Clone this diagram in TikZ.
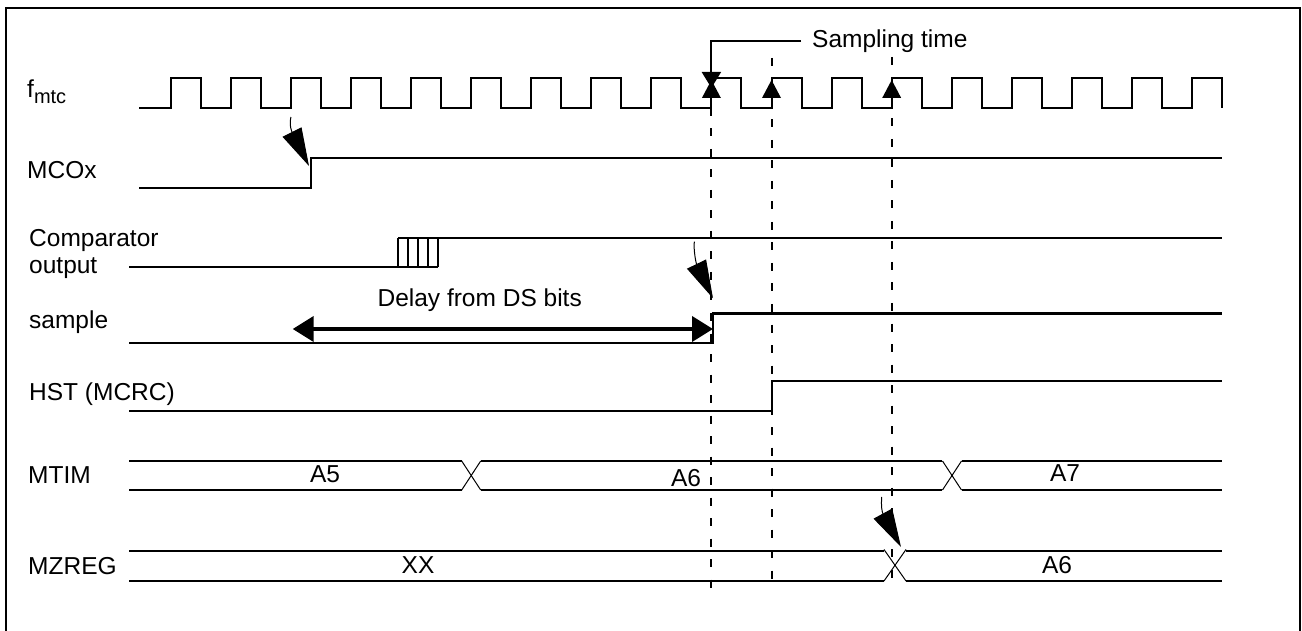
\documentclass[tikz,border=0pt]{standalone}
\usepackage{fontspec}
\setmainfont{Liberation Sans}
\usetikzlibrary{arrows.meta}
\newcommand{\diagfont}{\fontsize{24.5pt}{26.6pt}\selectfont}
\newcommand{\subfont}{\fontsize{20pt}{20pt}\selectfont}

\begin{document}
\begin{tikzpicture}[x=1pt, y=-1pt,
  sig/.style={line width=2pt},
  crossing/.style={line width=1pt},
  guide/.style={line width=2pt, dash pattern=on 8pt off 12.5pt},
  cause/.style={line width=1pt, -{Triangle[length=38pt, width=21pt]}},
  delay/.style={line width=4pt, {Triangle[length=21pt, width=25pt]}-{Triangle[length=21pt, width=25pt]}},
  lbl/.style={anchor=base west, inner sep=0pt, font=\diagfont},
  val/.style={anchor=base, inner sep=0pt, font=\diagfont}
]
  \useasboundingbox (0,0) rectangle (1302,631);

  % Frame
  \draw[line width=2pt] (6,8) rectangle (1300,660);

  % Signal names
  \node[lbl] (fmtc) at (27,98) {f\raisebox{-6pt}{\subfont mtc}};
  \node[lbl] (mcox) at (27,179) {MCOx};
  \node[lbl, align=left] (cmp) at (29,273.3) {Comparator\\output};
  \node[lbl] (smp) at (29,328.3) {sample};
  \node[lbl] (hst) at (29,400) {HST (MCRC)};
  \node[lbl] (mtim) at (28,483) {MTIM};
  \node[lbl] (mzreg) at (28,574) {MZREG};

  % Clock
  \draw[sig] (139,108) foreach \k in {0,...,17} { -- ({170.5+60.1*\k},108) -- ++(0,-30) -- ++(30,0) -- ++(0,30) };

  % MCOx, comparator, sample, HST
  \draw[sig] (139,188) -- (311,188) -- (311,158) -- (1222,158);
  \draw[sig] (129,267.5) -- (438,267.5);
  \draw[sig] (398,238) -- (1222,238);
  \foreach \x in {398,408,418,428,438}
    \draw[line width=1.5pt] (\x,238) -- (\x,267.5);
  \draw[sig] (129,342.5) -- (713,342.5) -- (713,313.5) -- (1222,313.5);
  \draw[sig] (129,411) -- (771.5,411) -- (771.5,381) -- (1222,381);

  % MTIM bus
  \draw[sig] (129,461) -- (461.7,461) (480.7,461) -- (942.3,461) (961.7,461) -- (1222,461)
             (129,490) -- (461.7,490) (480.7,490) -- (942.3,490) (961.7,490) -- (1222,490);
  \foreach \c in {471.2,952}
    \draw[crossing] (\c-9.5,461) -- (\c+9.5,490) (\c-9.5,490) -- (\c+9.5,461);
  \node[val] (a5) at (325,482) {A5};
  \node[val] (a6) at (686,486) {A6};
  \node[val] (a7) at (1065,481.7) {A7};

  % MZREG bus
  \draw[sig] (129,551) -- (884,551) (906,551) -- (1222,551)
             (129,581) -- (884,581) (906,581) -- (1222,581);
  \draw[crossing] (884,549.5) -- (906,581) (884,581) -- (906,549.5);
  \node[val] (xx) at (418,573) {XX};
  \node[val] (za6) at (1057,573) {A6};

  % Sampling instants
  \draw[guide] (711.4,108) -- (711.4,596);
  \draw[guide] (771.5,58) -- (771.5,580);
  \draw[guide] (891.7,57) -- (891.7,580);
  \foreach \x in {711.4,771.5,891.7}
    \fill (\x-9.5,98) -- (\x+9.5,98) -- (\x,80) -- cycle;
  \node[anchor=west, inner xsep=11pt, inner ysep=0pt, font=\diagfont] (samp) at (801,41) {Sampling time};
  \draw[line width=2pt, -{Triangle[length=16pt, width=19pt]}] (samp.west) -| (711.4,88);

  % Cause arrows
  \coordinate (clkA) at (290.9,117);
  \coordinate (mcoA) at (309,166);
  \draw[cause] (clkA) .. controls (289,126) and (292,132) .. (mcoA);
  \coordinate (cmpA) at (694.3,241.7);
  \coordinate (smpA) at (713,298.3);
  \draw[cause] (cmpA) .. controls (693.5,251) and (696,263) .. (smpA);
  \coordinate (clkB) at (881.7,497);
  \coordinate (mzA) at (901,547);
  \draw[cause] (clkB) .. controls (881,506) and (882,512) .. (mzA);

  % Delay
  \coordinate (dlyL) at (292.7,329);
  \coordinate (dlyR) at (713,329);
  \draw[delay] (dlyL) -- (dlyR);
  \node[val] (dlylbl) at (479.7,307) {Delay from DS bits};
\end{tikzpicture}
\end{document}
